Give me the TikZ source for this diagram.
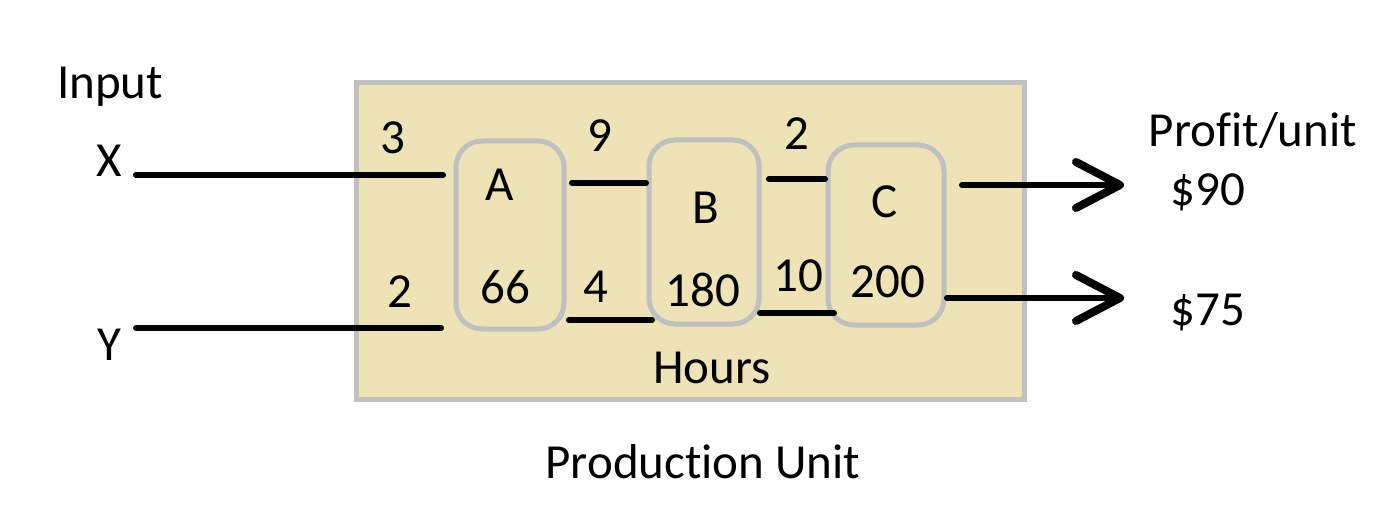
\documentclass[tikz,border=0pt]{standalone}
\usepackage{fontspec}
\setmainfont{Carlito}[Ligatures=NoCommon]
\usetikzlibrary{arrows.meta}
\definecolor{unitfill}{RGB}{237,227,182}
\definecolor{unitedge}{RGB}{192,192,192}
\tikzset{
  lbl/.style={font=\fontsize{49}{55}\selectfont, inner sep=0pt, anchor=center},
  machine/.style={draw=unitedge, line width=5pt, rounded corners=26pt, fill=unitfill},
  flow/.style={line width=6pt, line cap=round},
  outflow/.style={flow, -{Straight Barb[length=44pt,width=46pt,line width=8pt,round]}}
}
\begin{document}
\begin{tikzpicture}[x=1pt,y=-1pt]
\useasboundingbox (0,0) rectangle (1400,513);
% production unit box
\node[draw=unitedge, line width=5pt, fill=unitfill, minimum width=668pt, minimum height=316pt, inner sep=0pt] (unit) at (690,241) {};
% machines
\node[machine, minimum width=108pt, minimum height=188pt] (A) at (510,235) {};
\node[machine, minimum width=110pt, minimum height=184pt] (B) at (704,232) {};
\node[machine, minimum width=116pt, minimum height=180pt] (C) at (886,235) {};
% coordinates for connectors
\coordinate (xs) at (136,175);
\coordinate (xe) at (443,175);
\coordinate (ys) at (136,328);
\coordinate (ye) at (441,328);
\coordinate (ab1) at (572,183);
\coordinate (ab2) at (646,183);
\coordinate (ab3) at (569,320);
\coordinate (ab4) at (652,320);
\coordinate (bc1) at (769,179);
\coordinate (bc2) at (825,179);
\coordinate (bc3) at (760,313);
\coordinate (bc4) at (834,313);
\coordinate (c1) at (962,185);
\coordinate (c2) at (1124,185);
\coordinate (c3) at (947,298);
\coordinate (c4) at (1124,298);
\draw[flow] (xs) -- (xe);
\draw[flow] (ys) -- (ye);
\draw[flow] (ab1) -- (ab2);
\draw[flow] (ab3) -- (ab4);
\draw[flow] (bc1) -- (bc2);
\draw[flow] (bc3) -- (bc4);
\draw[outflow] (c1) -- (c2);
\draw[outflow] (c3) -- (c4);
% labels
\node[lbl] (input) at (110,87) {Input};
\node[lbl] (xl) at (109,161) {X};
\node[lbl] (yl) at (109,345) {Y};
\node[lbl] (n3) at (393,138) {3};
\node[lbl] (n2a) at (400,292) {2};
\node[lbl] (la) at (500,185) {A};
\node[lbl] (n66) at (505,287) {66};
\node[lbl] (n9) at (600,136) {9};
\node[lbl] (n4) at (596,287) {4};
\node[lbl] (lb) at (706,208) {B};
\node[lbl] (n180) at (703,290) {180};
\node[lbl] (n2b) at (797,134) {2};
\node[lbl] (n10) at (798,276) {10};
\node[lbl] (lc) at (885,202) {C};
\node[lbl] (n200) at (888,282) {200};
\node[lbl] (hours) at (712,368) {Hours};
\node[lbl] (prod) at (703,462) {Production Unit};
\node[lbl] (profit) at (1253,131) {Profit/unit};
\node[lbl] (p90) at (1208,192) {\$90};
\node[lbl] (p75) at (1208,313) {\$75};
\end{tikzpicture}
\end{document}
